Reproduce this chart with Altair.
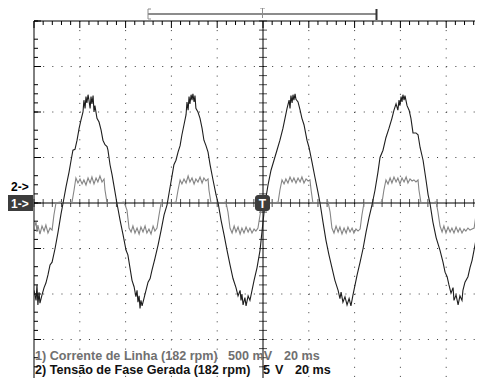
import altair as alt
import pandas as pd

# ---------------- data ----------------
# time in ms (20 ms/div)
# Channel 2 : Tensão de Fase Gerada, volts (5 V/div)
tensao_t = [0, 0.9, 1.3, 1.7, 2.2, 2.6, 3.5, 4.4, 5.2, 6.1, 7.0, 7.9, 9.2, 10.5, 11.8, 12.7, 14.0, 15.3, 16.2, 17.0,
            17.9, 18.8, 19.7, 20.5, 21.4, 21.8, 22.3, 22.7, 23.1, 23.6, 24.0, 24.5, 24.9, 25.3, 25.8, 26.2, 26.6, 27.5,
            28.4, 29.3, 30.1, 31.0, 31.9, 32.3, 33.2, 34.1, 34.9, 36.2,
            37.6, 38.9, 40.2, 41.0, 41.9, 42.8, 43.7, 44.5, 45.0, 45.4, 45.9, 46.3, 46.7, 47.2, 48.0, 48.9, 49.8, 50.7,
            51.5, 52.8, 54.2, 55.5, 56.8, 58.1, 59.4, 60.3, 61.1, 62.0, 62.9, 63.8, 64.6, 65.5, 66.4, 66.8, 67.3, 67.7,
            68.1, 68.6, 69.0, 69.4, 69.9, 70.3, 70.7, 71.6, 72.5, 73.4, 74.2, 75.1, 76.0, 76.9, 78.2, 79.5, 80.4,
            81.7, 83.0, 84.3, 85.6, 86.9, 88.2, 89.1, 90.0, 90.4, 90.8, 91.3, 92.1, 92.6, 93.5, 94.3, 95.2, 96.1, 97.4,
            98.7, 100.0, 100.9, 102.2, 103.5, 104.8, 106.1, 107.4, 108.7, 109.6, 110.5, 111.4, 111.8, 112.2, 112.7,
            113.1, 113.5, 114.0, 114.4, 115.3, 116.2, 117.0, 117.9, 119.2, 120.1, 121.4, 122.7, 124.0, 124.9,
            126.2, 127.5, 128.8, 130.1, 131.4, 132.8, 133.6, 134.1, 134.9, 135.8, 136.7, 137.6, 138.4, 139.3, 140.2,
            141.1, 142.4, 143.7, 145.0, 146.3, 147.6, 148.9, 150.2, 151.1, 152.4, 153.7, 155.0, 156.3, 157.2, 158.1,
            158.9, 159.4, 159.8, 160.3, 160.7, 161.1, 161.6, 162.0, 162.9, 163.8, 164.6, 165.5, 166.8, 167.7, 168.6,
            169.9, 171.2, 172.1, 172.9,
            174.2, 175.6, 177.3, 178.6, 179.5, 180.4, 181.2, 182.1, 183.0, 183.4, 184.3, 185.2, 186.0, 186.9, 187.3,
            188.2, 189.5, 190.4, 191.3, 192.6, 193.5, 194.8, 195.6, 196.9]
tensao_v = [-9.6, -10.7, -9.0, -11.2, -9.8, -11.0, -10.1, -9.3, -8.8, -7.9, -6.8, -6.5, -5.0, -3.2, -1.2, 0, 1.8, 3.4, 4.7, 5.8,
            5.9, 6.9, 8.2, 9.1, 10.0, 11.3, 10.4, 11.7, 11.0, 11.9, 11.3, 10.4, 11.7, 10.9, 11.8, 10.0, 10.7, 9.3,
            8.9, 8.0, 6.9, 6.4, 6.2, 5.8, 4.2, 3.1, 1.9, 0,
            -1.9, -3.5, -5.2, -5.7, -7.1, -8.5, -9.2, -10.3, -9.6, -10.9, -10.2, -11.6, -10.7, -11.3, -10.5, -9.6, -8.7, -8.3,
            -7.4, -6.1, -4.6, -3.0, -1.3, -0.2, 1.7, 3.0, 4.2, 4.7, 5.6, 6.3, 7.5, 8.6, 9.7, 11.1, 10.2, 11.7,
            10.9, 11.9, 11.3, 12.0, 11.1, 11.8, 10.4, 10.0, 9.3, 8.2, 6.9, 6.3, 5.6, 4.2, 2.5, 0.9, 0,
            -1.9, -3.5, -5.2, -6.8, -8.3, -9.3, -10.2, -9.6, -10.7, -10.0, -11.2, -10.4, -11.3, -10.2, -10.7, -9.6, -8.5, -7.1,
            -5.2, -2.1, 0, 2.0, 3.6, 4.7, 5.8, 6.9, 8.2, 9.3, 10.4, 11.3, 10.4, 11.8, 11.0,
            11.9, 11.3, 12.0, 11.4, 11.1, 10.2, 9.3, 8.6, 6.9, 6.1, 4.5, 2.8, 1.2, 0,
            -2.1, -4.1, -5.7, -7.1, -8.5, -9.6, -10.5, -9.8, -10.9, -10.3, -11.2, -10.5, -11.3, -10.1, -9.0,
            -7.9, -6.5, -5.0, -3.2, -1.6, -0.2, 1.4, 3.4, 5.0, 5.8, 7.2, 8.2, 9.3, 10.2, 10.9,
            10.2, 11.3, 10.7, 11.7, 11.1, 11.9, 11.3, 11.8, 10.7, 10.2, 9.3, 7.7, 7.7, 7.5, 6.1,
            4.7, 2.5, 0.9, 0,
            -2.1, -3.8, -5.2, -6.5, -7.6, -8.1, -9.0, -9.9, -9.3, -10.7, -10.1, -11.2, -10.2, -10.7, -9.6,
            -8.7, -8.1, -7.1, -6.3, -4.6, -3.3, -1.6, -1.1, 0.3]

# Channel 1 : Corrente de Linha, millivolts (500 mV/div)
corrente_t = [0, 0.9, 1.3, 1.7, 2.6, 3.5, 4.4, 5.2, 6.1, 7.0, 7.9, 8.7, 9.6, 11.4, 13.1, 14.8, 16.6, 17.5, 18.3, 19.2,
              20.1, 21.0, 21.8, 22.7, 23.6, 24.5, 25.3, 26.2, 27.1, 27.9, 28.8, 29.7, 30.6, 31.0, 31.9, 34.1, 36.7,
              39.3, 40.6, 41.5, 42.4, 43.2, 44.1, 45.0, 45.9, 46.7, 47.6, 48.5, 49.3, 50.2, 51.1, 52.0, 52.8, 53.7,
              54.6, 55.5, 57.6, 60.3, 62.0, 62.9, 63.8, 64.6, 65.5, 66.4, 67.3, 68.1, 69.0, 69.9, 70.7, 71.6, 72.5,
              73.4, 74.2, 75.1, 76.0, 76.4, 77.3, 79.5, 82.1, 83.8, 84.7, 85.6, 86.5, 87.4, 88.2, 89.1, 90.0, 90.8,
              91.7, 92.6, 93.5, 94.3, 95.2, 96.1, 96.9, 97.8, 98.7, 99.6, 102.2, 104.8, 106.6, 107.4, 108.3, 109.2,
              110.0, 110.9, 111.8, 112.7, 113.5, 114.4, 115.3, 116.2, 117.0, 117.9, 118.8, 119.7, 120.5, 121.0, 121.8,
              124.0, 126.6, 128.4, 129.3, 130.1, 131.0, 131.9, 132.8, 133.6, 134.5, 135.4, 136.3, 137.1, 138.0, 138.9,
              139.7, 140.6, 141.5, 142.4, 143.2, 144.1, 146.7, 149.4, 152.0, 152.8, 153.7, 154.6, 155.5, 156.3, 157.2,
              158.1, 158.9, 159.8, 160.7, 161.6, 162.5, 163.3, 164.2, 165.1, 165.9, 166.8, 167.7, 168.1, 169.0, 171.2,
              173.8, 175.6, 176.4, 177.3, 178.2, 179.0, 179.9, 180.8, 181.7, 182.5, 183.4, 184.3, 185.2, 186.0, 186.9,
              187.8, 188.6, 189.5, 190.4, 191.3, 192.2, 193.0, 193.9, 196.9]
corrente_mv = [-275, -209, -319, -242, -341, -253, -308, -242, -330, -275, -297, -132, 0, 11, 0, 0, 11, 143, 275, 220,
               264, 209, 253, 198, 275, 220, 286, 209, 275, 231, 297, 231, 264, 143, 0, 0, 0,
               11, -77, -275, -319, -253, -330, -275, -341, -264, -319, -253, -330, -286, -341, -253, -308, -275,
               -132, 0, 0, 0, 11, 143, 253, 209, 264, 220, 297, 231, 275, 209, 264, 231, 286,
               220, 275, 242, 264, 143, 0, 0, 0, 11, -99, -275, -330, -253, -319, -264, -341, -275,
               -330, -264, -319, -275, -330, -286, -308, -275, -132, 0, 0, 0, 11, 143, 253, 209,
               264, 220, 286, 231, 275, 220, 275, 231, 286, 220, 264, 242, 253, 143, 0,
               0, 0, 11, -99, -275, -330, -253, -319, -264, -341, -275, -330, -264, -319, -275,
               -330, -286, -308, -286, -132, 0, 0, 0, 11, 143, 253, 209, 275, 220, 286,
               231, 275, 209, 275, 231, 286, 220, 264, 242, 253, 231, 253, 143, 0, 0,
               0, 11, -99, -253, -319, -253, -330, -264, -319, -275, -330, -264, -319, -275, -330,
               -286, -308, -275, -297, -286, -275, -132, 0, 0]

VOLT_PER_DIV = 5.0
MV_PER_DIV = 500.0

# legend lines, split where the scope leaves gaps
legend_1 = ["1) Corrente de Linha (182 rpm)", "500 mV", "20 ms"]
legend_2 = ["2) Tensão de Fase Gerada (182 rpm)", "5", "V", "20 ms"]

# ---------------- layout ----------------
PX_X = 45.8 / 20.0       # pixels per ms
PX_Y = 45.5              # pixels per division
W, H = 441, 357          # visible part of the 10 x 8 division screen
T_MAX = W / PX_X
D_MIN = 4 - H / PX_Y
FONT = "Liberation Sans"

tensao = pd.DataFrame({"t": tensao_t, "div": [v / VOLT_PER_DIV for v in tensao_v]})
corrente = pd.DataFrame({"t": corrente_t, "div": [v / MV_PER_DIV for v in corrente_mv]})

xs = alt.Scale(domain=[0, T_MAX], nice=False, zero=False)
ys = alt.Scale(domain=[D_MIN, 4], nice=False, zero=False)


def X(f="t"):
    return alt.X(f"{f}:Q", scale=xs, axis=None)


def Y(f="div"):
    return alt.Y(f"{f}:Q", scale=ys, axis=None)


one = pd.DataFrame({"t": [100], "div": [0]})

minor_t = pd.DataFrame({"t": [i * 4 for i in range(49) if i % 5 != 0]})
major_t = pd.DataFrame({"t": [i * 20 for i in range(10)]})
minor_d = pd.DataFrame({"div": [i / 5 - 3.6 for i in range(39) if (i + 3) % 5 != 0]})
major_d = pd.DataFrame({"div": [i - 3 for i in range(8)]})
all_t = pd.DataFrame({"t": [i * 4 for i in range(49)], "div": [0] * 49})
all_d = pd.DataFrame({"div": [i / 5 - 3.6 for i in range(39)], "t": [100] * 39})
grid_t = pd.DataFrame({"t": [20, 40, 60, 80, 120, 140, 160, 180]})
grid_d = pd.DataFrame({"div": [-3, -2, -1, 1, 2, 3]})

GRID_C = "#3a3a3a"

vgrid = alt.Chart(grid_t).mark_rule(color=GRID_C, strokeWidth=1, strokeDash=[1, 8.1]).encode(
    x=X(), y=alt.value(0), y2=alt.value(H))
hgrid = alt.Chart(grid_d).mark_rule(color=GRID_C, strokeWidth=1, strokeDash=[1, 8.16]).encode(
    y=Y(), x=alt.value(0), x2=alt.value(W))

# border (left and top are visible; right/bottom fall outside the screenshot)
border_l = alt.Chart(one).mark_rule(color="black", strokeWidth=1).encode(
    x=alt.value(0), y=alt.value(0), y2=alt.value(H))
border_t = alt.Chart(one).mark_rule(color="black", strokeWidth=1).encode(
    y=alt.value(0), x=alt.value(0), x2=alt.value(W))

tick_top_minor = alt.Chart(minor_t).mark_rule(color="black").encode(x=X(), y=alt.value(0), y2=alt.value(4))
tick_top_major = alt.Chart(major_t).mark_rule(color="black").encode(x=X(), y=alt.value(0), y2=alt.value(7))
tick_left_minor = alt.Chart(minor_d).mark_rule(color="black").encode(y=Y(), x=alt.value(0), x2=alt.value(4))
tick_left_major = alt.Chart(major_d).mark_rule(color="black").encode(y=Y(), x=alt.value(0), x2=alt.value(7))

# centre cross with ticks
center_v = alt.Chart(one).mark_rule(color="black", strokeWidth=1).encode(
    x=X(), y=alt.value(0), y2=alt.value(H))
center_h = alt.Chart(one).mark_rule(color="black", strokeWidth=1).encode(
    y=Y(), x=alt.value(0), x2=alt.value(W))
center_ticks_x = alt.Chart(all_t).mark_tick(orient="vertical", color="black", size=8, thickness=1).encode(
    x=X(), y=Y())
center_ticks_y = alt.Chart(all_d).mark_tick(orient="horizontal", color="black", size=8, thickness=1).encode(
    y=Y(), x=X())

# traces
trace_i = alt.Chart(corrente).mark_line(color="#858585", strokeWidth=1.1, clip=True).encode(
    x=X(), y=Y(), order="t:Q")
trace_v = alt.Chart(tensao).mark_line(color="#1e1e1e", strokeWidth=1.1, clip=True).encode(
    x=X(), y=Y(), order="t:Q")

# channel markers on the left
box1 = alt.Chart(one).mark_rect(color="#3c3c3c").encode(
    x=alt.value(-26), x2=alt.value(-1), y=alt.value(174), y2=alt.value(190))
lab1 = alt.Chart(one).mark_text(font=FONT, fontSize=12, fontWeight="bold", color="white",
                                align="left", baseline="middle").encode(
    x=alt.value(-23), y=alt.value(182.5), text=alt.value("1->"))
lab2 = alt.Chart(one).mark_text(font=FONT, fontSize=12, fontWeight="bold", color="black",
                                align="left", baseline="middle").encode(
    x=alt.value(-23), y=alt.value(166), text=alt.value("2->"))

# trigger marker at centre
tbox = alt.Chart(one).mark_rect(color="#3c3c3c", cornerRadius=3).encode(
    x=alt.value(221), x2=alt.value(236), y=alt.value(174), y2=alt.value(190))
tlab = alt.Chart(one).mark_text(font=FONT, fontSize=12, fontWeight="bold", color="white",
                                align="center", baseline="middle").encode(
    x=alt.value(228.5), y=alt.value(182.5), text=alt.value("T"))

# top trigger/record bar
TB = "#8c8c8c"
bar = alt.Chart(one).mark_rule(color=TB, strokeWidth=2).encode(
    x=alt.value(114), x2=alt.value(343), y=alt.value(-7))
bar_l = alt.Chart(one).mark_rule(color=TB, strokeWidth=1).encode(
    x=alt.value(114), y=alt.value(-12), y2=alt.value(-2))
bar_l1 = alt.Chart(one).mark_rule(color=TB, strokeWidth=1).encode(
    x=alt.value(114), x2=alt.value(117), y=alt.value(-12))
bar_l2 = alt.Chart(one).mark_rule(color=TB, strokeWidth=1).encode(
    x=alt.value(114), x2=alt.value(117), y=alt.value(-2))
bar_r = alt.Chart(one).mark_rule(color="#333333", strokeWidth=2).encode(
    x=alt.value(342.5), y=alt.value(-12), y2=alt.value(-1))
bar_t = alt.Chart(one).mark_rule(color=TB, strokeWidth=1).encode(
    x=alt.value(228.5), y=alt.value(-13), y2=alt.value(-3))
bar_t1 = alt.Chart(one).mark_rule(color=TB, strokeWidth=1).encode(
    x=alt.value(226), x2=alt.value(231), y=alt.value(-13))


# legend texts
def legend_piece(txt, x, y, color):
    return alt.Chart(one).mark_text(font=FONT, fontSize=12.6, fontWeight="bold", color=color,
                                    align="left", baseline="middle").encode(
        x=alt.value(x), y=alt.value(y), text=alt.value(txt))


C1, C2 = "#707070", "#111111"
legend_layers = [
    legend_piece(legend_1[0], 1, 335.0, C1),
    legend_piece(legend_1[1], 194, 335.0, C1),
    legend_piece(legend_1[2], 250, 335.0, C1),
    legend_piece(legend_2[0], 1, 349.0, C2),
    legend_piece(legend_2[1], 229, 349.0, C2),
    legend_piece(legend_2[2], 241, 349.0, C2),
    legend_piece(legend_2[3], 261, 349.0, C2),
]

chart = alt.layer(
    vgrid, hgrid,
    center_v, center_h, center_ticks_x, center_ticks_y,
    border_l, border_t,
    tick_top_minor, tick_top_major, tick_left_minor, tick_left_major,
    trace_i, trace_v,
    box1, lab1, lab2, tbox, tlab,
    bar, bar_l, bar_l1, bar_l2, bar_r, bar_t, bar_t1,
    *legend_layers,
).properties(
    width=W, height=H,
    padding={"left": 26, "top": 13, "right": 0, "bottom": 0},
    autosize=alt.AutoSizeParams(type="none"),
    background="white",
).configure_view(stroke=None)

chart.save("out.html", embed_options={"renderer": "svg", "actions": False})
